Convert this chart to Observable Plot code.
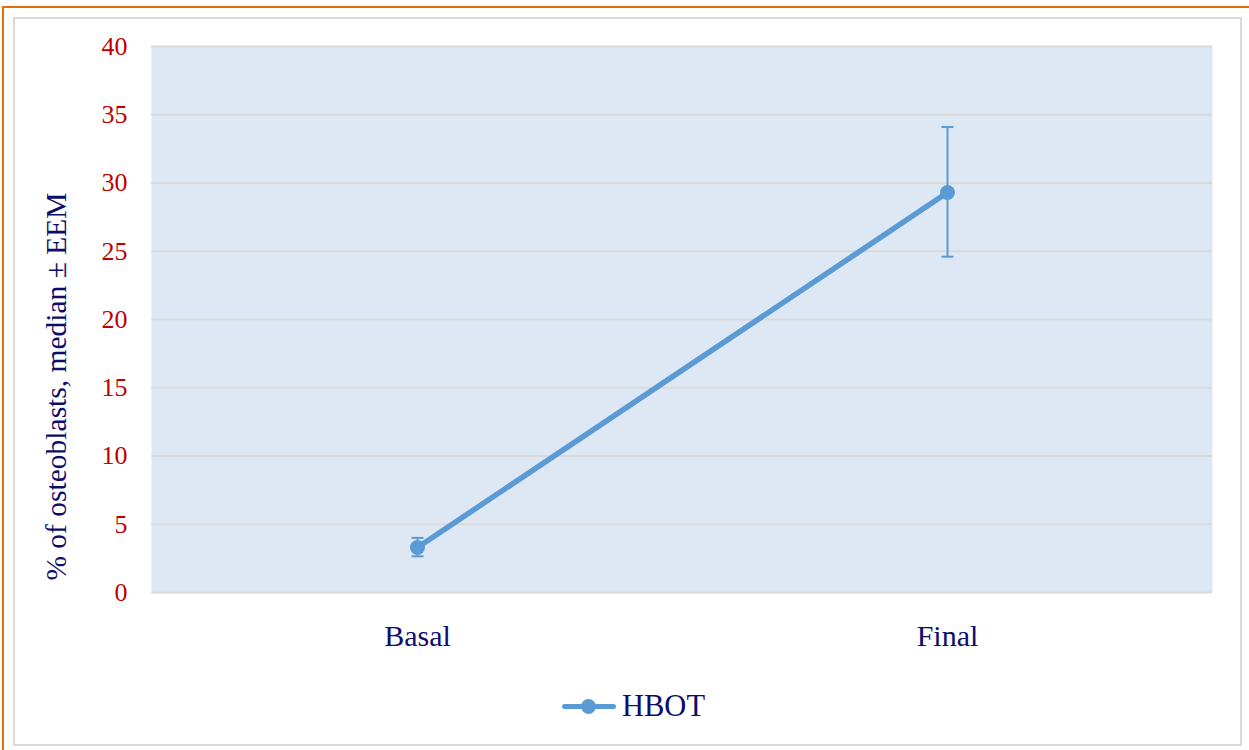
<!DOCTYPE html>
<html>
<head>
<meta charset="utf-8">
<script src="https://cdn.jsdelivr.net/npm/d3@7"></script>
<script src="https://cdn.jsdelivr.net/npm/@observablehq/plot@0.6"></script>
<style>
  html, body { margin: 0; padding: 0; background: #fff; }
  #page { position: relative; width: 1249px; height: 750px; overflow: hidden; background: #fff; }
  #orangeTop { position: absolute; left: 3px; top: 6px; width: 1246px; height: 2px; background: #e36c09; }
  #orangeLeft { position: absolute; left: 2px; top: 6px; width: 2px; height: 744px; background: #e36c09; }
  #frame { position: absolute; left: 13px; top: 17px; width: 1225px; height: 725px; border: 2px solid #d9d9d9; }
  #chart { position: absolute; left: 0; top: 0; }
  #legend { position: absolute; left: 560px; top: 688px; height: 36px; display: flex; align-items: center;
            font-family: "Liberation Serif", "Times New Roman", serif; font-size: 30.5px; color: #0d0d6b; }
  #legend .sw { position: relative; width: 58px; height: 30px; margin-right: 4px; }
  #legend .ln { position: absolute; left: 2px; top: 13px; width: 54px; height: 5px; border-radius: 3px; background: #5b9bd5; }
  #legend .dt { position: absolute; left: 21px; top: 8px; width: 15px; height: 15px; border-radius: 50%; background: #5b9bd5; }
</style>
</head>
<body>
<div id="page">
  <div id="orangeTop"></div>
  <div id="orangeLeft"></div>
  <div id="frame"></div>
  <div id="chart"></div>
  <div id="legend"><div class="sw"><div class="ln"></div><div class="dt"></div></div><span>HBOT</span></div>
</div>
<script>
// Data
const categories = ["Basal", "Final"];
const medians = [3.3, 29.3];
const errLow = [2.65, 24.6];
const errHigh = [4.0, 34.1];
const yTicks = [0, 5, 10, 15, 20, 25, 30, 35, 40];
const yLabel = "% of osteoblasts, median ± EEM";
const seriesName = "HBOT";

const rows = categories.map((c, i) => ({cat: c, v: medians[i], lo: errLow[i], hi: errHigh[i]}));

const lineColor = "#5b9bd5";
const capSymbol = {
  draw(context, size) {
    const w = Math.sqrt(size / Math.PI);
    context.moveTo(-w, 0);
    context.lineTo(w, 0);
  }
};

const chart = Plot.plot({
  width: 1249,
  height: 680,
  marginLeft: 151,
  marginRight: 37,
  marginTop: 46,
  marginBottom: 88,
  style: {fontFamily: "'Liberation Serif', 'Times New Roman', serif", background: "transparent"},
  x: {type: "point", domain: categories, padding: 0.5, align: 0.5},
  y: {domain: [0, 40]},
  marks: [
    Plot.frame({fill: "#dee8f4", stroke: null}),
    Plot.ruleY(yTicks, {stroke: "#d9d9d9", strokeWidth: 2}),
    Plot.axisY(yTicks, {tickSize: 0, tickPadding: 24, fontSize: 26, fill: "#c00000", label: null}),
    Plot.axisX({tickSize: 0, tickPadding: 32, fontSize: 30, fill: "#0d0d6b", label: null}),
    Plot.text([yLabel], {frameAnchor: "left", dx: -95, dy: 67, rotate: -90, textAnchor: "middle", fontSize: 29.5, fill: "#0d0d6b"}),
    Plot.ruleX(rows, {x: "cat", y1: "lo", y2: "hi", stroke: lineColor, strokeWidth: 2}),
    Plot.dot(rows, {x: "cat", y: "lo", symbol: capSymbol, r: 6, stroke: lineColor, strokeWidth: 2, fill: "none"}),
    Plot.dot(rows, {x: "cat", y: "hi", symbol: capSymbol, r: 6, stroke: lineColor, strokeWidth: 2, fill: "none"}),
    Plot.line(rows, {x: "cat", y: "v", stroke: lineColor, strokeWidth: 5.5}),
    Plot.dot(rows, {x: "cat", y: "v", r: 7.5, fill: lineColor, stroke: null})
  ]
});
document.getElementById("chart").appendChild(chart);
</script>
</body>
</html>
